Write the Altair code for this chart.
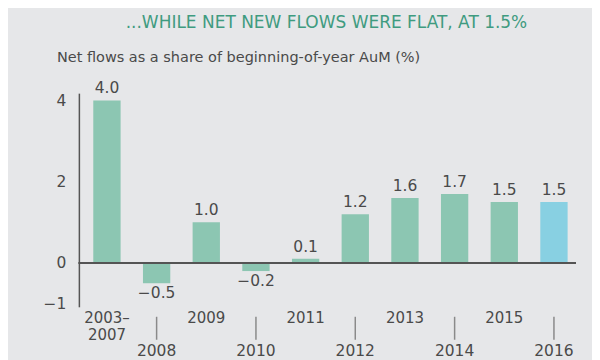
import altair as alt
import pandas as pd

# ---- data ----
categories = ["2003–2007", "2008", "2009", "2010", "2011", "2012", "2013", "2014", "2015", "2016"]
values = [4.0, -0.5, 1.0, -0.2, 0.1, 1.2, 1.6, 1.7, 1.5, 1.5]
x_labels = ["2003–\n2007", "2008", "2009", "2010", "2011", "2012", "2013", "2014", "2015", "2016"]
label_row = ["upper", "lower", "upper", "lower", "upper", "lower", "upper", "lower", "upper", "lower"]
highlight = [False] * 9 + [True]
y_ticks = [-1, 0, 2, 4]

title_text = "...WHILE NET NEW FLOWS WERE FLAT, AT 1.5%"
subtitle_text = "Net flows as a share of beginning-of-year AuM (%)"

df = pd.DataFrame({
    "cat": categories,
    "value": values,
    "lab": x_labels,
    "row": label_row,
    "hl": ["2016" if h else "other" for h in highlight],
})

FONT = "DejaVu Sans"
TXT = "#4a4a4a"
W, H = 504, 214
FS = 15.5

x_enc = alt.X("cat:N", sort=categories, axis=None,
              scale=alt.Scale(paddingInner=0.45, paddingOuter=0.29))
y_scale = alt.Scale(domain=[-1.08, 4.18], nice=False, zero=False)

base = alt.Chart(df)

bars = base.mark_bar().encode(
    x=x_enc,
    y=alt.Y("value:Q", scale=y_scale,
            axis=alt.Axis(values=y_ticks, title=None, grid=False, ticks=False,
                          domain=True, domainColor="#555555", domainWidth=1.5,
                          labelFontSize=FS, labelColor=TXT, labelFont=FONT,
                          labelPadding=13, format="d")),
    y2=alt.datum(0),
    color=alt.Color("hl:N", scale=alt.Scale(domain=["other", "2016"],
                                            range=["#8cc6b2", "#88d0e2"]), legend=None),
)

pos_labels = base.transform_filter("datum.value >= 0").mark_text(
    baseline="bottom", dy=-4, fontSize=FS, font=FONT, color=TXT
).encode(x=x_enc, y=alt.Y("value:Q", scale=y_scale), text=alt.Text("value:Q", format=".1f"))

neg_labels = base.transform_filter("datum.value < 0").mark_text(
    baseline="top", dy=3, fontSize=FS, font=FONT, color=TXT
).encode(x=x_enc, y=alt.Y("value:Q", scale=y_scale), text=alt.Text("value:Q", format=".1f"))

zero_line = base.mark_rule(color="#555555", strokeWidth=1.5).encode(
    y=alt.datum(0), x=alt.value(0), x2=alt.value(498)
)

upper = base.transform_filter("datum.row == 'upper'").mark_text(
    baseline="top", fontSize=15, font=FONT, color=TXT, lineBreak="\n", lineHeight=17
).encode(x=x_enc, y=alt.value(218), text="lab:N")

lower = base.transform_filter("datum.row == 'lower'").mark_text(
    baseline="middle", fontSize=FS, font=FONT, color=TXT
).encode(x=x_enc, y=alt.value(258), text="lab:N")

ticks = base.transform_filter("datum.row == 'lower'").mark_rule(
    color="#8a8a8a", strokeWidth=1.5
).encode(x=x_enc, y=alt.value(224), y2=alt.value(247))

title = alt.Chart(pd.DataFrame({"t": [title_text]})).mark_text(
    align="center", baseline="middle", fontSize=17, font=FONT, color="#3f9b80"
).encode(x=alt.value(248), y=alt.value(-70), text="t:N")

subtitle = alt.Chart(pd.DataFrame({"t": [subtitle_text]})).mark_text(
    align="left", baseline="middle", fontSize=14.5, font=FONT, color=TXT
).encode(x=alt.value(-22), y=alt.value(-35), text="t:N")

chart = alt.layer(
    bars, zero_line, pos_labels, neg_labels, upper, lower, ticks, title, subtitle
).properties(
    width=W, height=H,
    autosize=alt.AutoSizeParams(type="none"),
    padding={"left": 71, "top": 85, "right": 10, "bottom": 60},
    background="#e6e7e9",
).configure_view(stroke=None)

chart.save("out.html", embed_options={"renderer": "svg", "actions": False})
